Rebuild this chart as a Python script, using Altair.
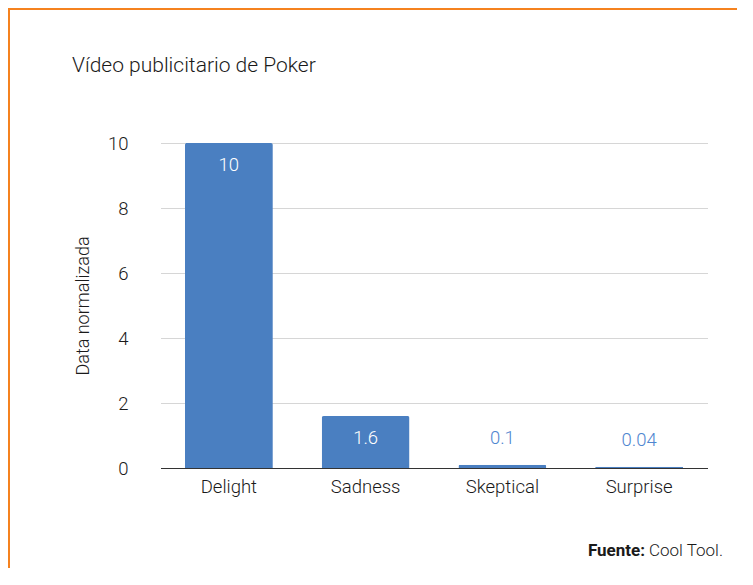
import altair as alt
import pandas as pd

categories = ["Delight", "Sadness", "Skeptical", "Surprise"]
values = [10, 1.6, 0.1, 0.04]
labels = ["10", "1.6", "0.1", "0.04"]

df = pd.DataFrame({"cat": categories, "val": values, "lab": labels})
one = pd.DataFrame({"k": [0]})

FONT = "Roboto"
BAR = "#4a7fc1"
ORANGE = "#f5821f"
TXT = "#1a1a1a"

xenc = alt.X("cat:N", sort=categories, title=None,
             scale=alt.Scale(range=[23.5, 570.5], paddingInner=0.357, paddingOuter=0.1785),
             axis=alt.Axis(labelAngle=0, labelFontSize=18.5, labelColor=TXT, labelPadding=9,
                           ticks=False, domain=True, domainColor="#333", domainWidth=1,
                           labelFont=FONT, labelFontWeight=300, grid=False))
yenc = alt.Y("val:Q", title="Data normalizada",
             scale=alt.Scale(domain=[0, 10], nice=False),
             axis=alt.Axis(values=[0, 2, 4, 6, 8, 10], labelFontSize=18.5, labelColor=TXT,
                           labelPadding=9, ticks=False, domain=False, gridColor="#d6d6d6",
                           titleFontSize=18, titleFontWeight=300, titleColor=TXT,
                           titlePadding=15, labelFont=FONT, labelFontWeight=300, titleFont=FONT))

base = alt.Chart(df)

bars = base.mark_bar(color=BAR, cornerRadiusTopLeft=2, cornerRadiusTopRight=2).encode(x=xenc, y=yenc)

inside = base.transform_filter("datum.val >= 1").mark_text(
    color="white", fontSize=18.5, fontWeight=300, baseline="middle", dy=22, font=FONT
).encode(x=alt.X("cat:N", sort=categories), y="val:Q", text="lab:N")

outside = base.transform_filter("datum.val < 1").mark_text(
    color="#4f86d0", fontSize=18.5, fontWeight=300, baseline="middle", dy=-27, font=FONT
).encode(x=alt.X("cat:N", sort=categories), y="val:Q", text="lab:N")

title = alt.Chart(one).mark_text(
    text="Vídeo publicitario de Poker", fontSize=21, fontWeight=300, font=FONT, color=TXT,
    align="left", baseline="middle"
).encode(x=alt.value(-65), y=alt.value(-77))

border_top = alt.Chart(one).mark_rule(color=ORANGE, strokeWidth=2).encode(
    x=alt.value(-130), x2=alt.value(640), y=alt.value(-134))
border_left = alt.Chart(one).mark_rule(color=ORANGE, strokeWidth=2).encode(
    x=alt.value(-128), y=alt.value(-135), y2=alt.value(440))

src_bold = alt.Chart(one).mark_text(
    text="Fuente:", fontWeight="bold", fontSize=17, font=FONT, color=TXT,
    align="right", baseline="middle"
).encode(x=alt.value(508), y=alt.value(408))
src_reg = alt.Chart(one).mark_text(
    text="Cool Tool.", fontSize=17, fontWeight=300, font=FONT, color=TXT,
    align="left", baseline="middle"
).encode(x=alt.value(512), y=alt.value(408))

chart = alt.layer(bars, inside, outside, title, border_top, border_left, src_bold, src_reg).properties(
    width=564, height=325,
    autosize=alt.AutoSizeParams(type="none"),
    padding={"left": 129, "top": 135, "right": 36, "bottom": 100},
).configure(background="white").configure_view(stroke=None)

chart.save("out.html", embed_options={"renderer": "svg", "actions": False})
